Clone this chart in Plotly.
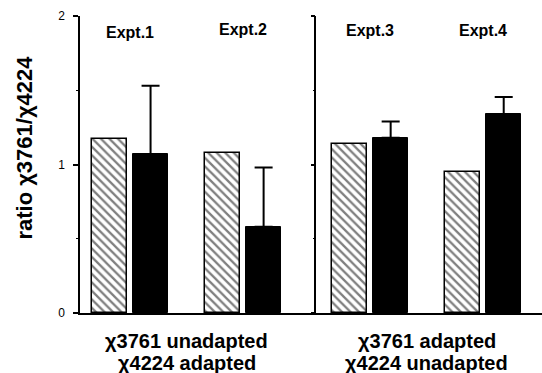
import plotly.graph_objects as go

# ---- data ----
experiments = ["Expt.1", "Expt.2", "Expt.3", "Expt.4"]
hatched_values = [1.17, 1.08, 1.14, 0.95]
black_values = [1.07, 0.58, 1.18, 1.34]
black_err_up = [0.46, 0.40, 0.11, 0.115]
panel_labels_line1 = ["\u03c73761 unadapted", "\u03c73761 adapted"]
panel_labels_line2 = ["\u03c74224 adapted", "\u03c74224 unadapted"]
y_title = "ratio \u03c73761/\u03c74224"
y_tickvals = [0, 1, 2]
y_ticktext = ["0", "1", "2"]

# ---- positions (layout) ----
within_gap = 3.23
panel_extra = 0.40
panel_of = [0, 0, 1, 1]
centers = [i * within_gap + panel_of[i] * panel_extra for i in range(len(experiments))]
offset = 0.586
bar_w = 1.0
x_hatched = [c - offset for c in centers]
x_black = [c + offset for c in centers]
divider_x = (centers[1] + centers[2]) / 2 + 0.25

FONT = "Liberation Sans, Arial, Helvetica, sans-serif"

fig = go.Figure()
fig.add_trace(go.Bar(
    x=x_hatched, y=hatched_values, width=bar_w,
    marker=dict(color="white",
                pattern=dict(shape="\\", size=6, solidity=0.38, fgcolor="black", bgcolor="white"),
                line=dict(color="black", width=1.5)),
    showlegend=False,
))
fig.add_trace(go.Bar(
    x=x_black, y=black_values, width=bar_w,
    marker=dict(color="black", line=dict(color="black", width=1)),
    error_y=dict(type="data", symmetric=False, array=black_err_up,
                 arrayminus=[0] * len(black_err_up), color="black", thickness=2, width=9),
    showlegend=False,
))

ann = []
for name, c, yv in zip(experiments, centers, [1.89, 1.91, 1.90, 1.90]):
    ann.append(dict(x=c, y=yv, xref="x", yref="y", text=f"<b>{name}</b>", showarrow=False,
                    font=dict(family=FONT, size=16, color="black"), xanchor="center", yanchor="middle"))
panel_centers = [(centers[0] + centers[1]) / 2, (centers[2] + centers[3]) / 2]
for pc, l1, l2 in zip(panel_centers, panel_labels_line1, panel_labels_line2):
    ann.append(dict(x=pc, y=-0.093, xref="x", yref="paper", text=f"<b>{l1}</b>", showarrow=False,
                    font=dict(family=FONT, size=20, color="black"), xanchor="center", yanchor="middle"))
    ann.append(dict(x=pc, y=-0.167, xref="x", yref="paper", text=f"<b>{l2}</b>", showarrow=False,
                    font=dict(family=FONT, size=20, color="black"), xanchor="center", yanchor="middle"))
ann.append(dict(x=-0.119, y=0.557, xref="paper", yref="paper", text=f"<b>{y_title}</b>",
                showarrow=False, textangle=-90,
                font=dict(family=FONT, size=22, color="black"), xanchor="center", yanchor="middle"))

x_left = -1.43
x_right = 11.77
div_pos = (divider_x - x_left) / (x_right - x_left)

fig.update_layout(
    width=542, height=373,
    margin=dict(l=80, r=0, t=16, b=60),
    paper_bgcolor="white", plot_bgcolor="white",
    bargap=0, barmode="overlay",
    annotations=ann,
    xaxis=dict(range=[x_left, x_right], showgrid=False, zeroline=False, showticklabels=False,
               ticks="", showline=True, linecolor="black", linewidth=1.5, fixedrange=True),
    yaxis=dict(range=[0, 2], showgrid=False, zeroline=False, showline=True, linecolor="black",
               linewidth=1.5, ticks="outside", ticklen=5, tickwidth=1.5, tickcolor="black",
               tickvals=y_tickvals, ticktext=y_ticktext, ticklabelstandoff=6,
               tickfont=dict(family=FONT, size=12, color="black"),
               minor=dict(tickvals=[0.5, 1.5], ticks="outside", ticklen=2, tickwidth=1, tickcolor="black")),
    yaxis2=dict(range=[0, 2], overlaying="y", anchor="free", position=div_pos, side="left",
                showgrid=False, zeroline=False, showline=True, linecolor="black", linewidth=1.5,
                ticks="outside", ticklen=4, tickwidth=1.5, tickcolor="black",
                tickvals=y_tickvals, showticklabels=False,
                minor=dict(tickvals=[0.5, 1.5], ticks="outside", ticklen=2, tickwidth=1, tickcolor="black")),
)
# invisible trace to activate yaxis2
fig.add_trace(go.Scatter(x=[divider_x], y=[0], yaxis="y2", mode="markers",
                         marker=dict(opacity=0), showlegend=False, hoverinfo="skip"))

fig.write_html("out.html", config={"displayModeBar": False},
               post_script="document.body.style.margin='0';")
